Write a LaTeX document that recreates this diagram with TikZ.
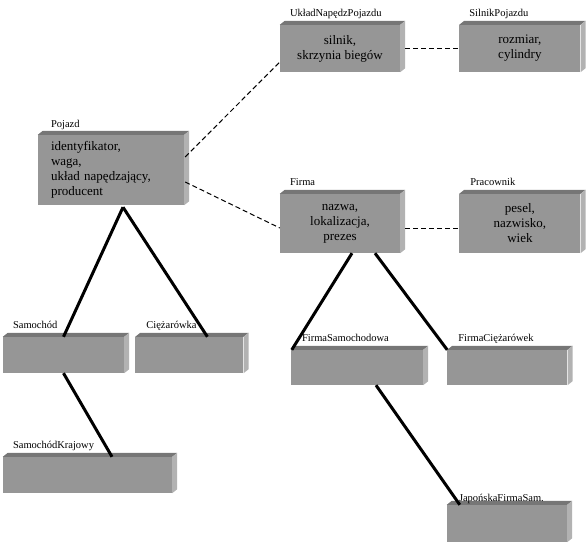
\documentclass[tikz,border=0pt]{standalone}
\usepackage{fontspec}
\setmainfont{Liberation Serif}
\usetikzlibrary{positioning,calc}
\definecolor{boxfront}{RGB}{150,150,150}
\definecolor{boxtop}{RGB}{118,118,118}
\definecolor{boxside}{RGB}{178,178,178}

\begin{document}
\begin{tikzpicture}[x=1pt, y=-1pt,
  klasa/.style={rectangle, fill=boxfront, inner sep=2pt, align=center,
                font=\fontsize{13}{15}\selectfont},
  nazwa/.style={anchor=base west, inner sep=0pt, font=\fontsize{10.5}{12}\selectfont},
  dziedz/.style={line width=3pt},
  assoc/.style={line width=1pt, dash pattern=on 5pt off 3pt}
]
\useasboundingbox (0,0) rectangle (587,545);

% klasy
\node[klasa, minimum width=120pt, minimum height=47pt] (uklad) at (340,48.5) {silnik,\\ skrzynia biegów};
\node[klasa, minimum width=121pt, minimum height=47pt, right=59pt of uklad] (silnik) {rozmiar,\\ cylindry};
\node[klasa, minimum height=70pt, text width=120pt, inner xsep=13pt, align=left] (pojazd) at (111,170)
  {identyfikator,\\ waga,\\ układ napędzający,\\ producent};
\node[klasa, minimum width=120pt, minimum height=59pt] (firma) at (340,223.5) {nazwa,\\ lokalizacja,\\ prezes};
\node[klasa, minimum width=121pt, minimum height=59pt, right=59pt of firma] (pracownik) {pesel,\\ nazwisko,\\ wiek};
\node[klasa, minimum width=121pt, minimum height=36pt] (samochod) at (63.5,355) {};
\node[klasa, minimum width=108pt, minimum height=36pt, right=11pt of samochod] (ciezarowka) {};
\node[klasa, minimum width=132pt, minimum height=35pt] (firmasam) at (357,367.5) {};
\node[klasa, minimum width=120pt, minimum height=35pt, right=24pt of firmasam] (firmaciez) {};
\node[klasa, minimum width=169pt, minimum height=36pt] (samkraj) at (87.5,475) {};
\node[klasa, minimum width=120pt, minimum height=37pt] (japonska) at (507,523.5) {};

% boki
\foreach \k in {uklad,silnik,pojazd,firma,pracownik,samochod,ciezarowka,firmasam,firmaciez,samkraj,japonska}{
  \fill[boxtop] (\k.north west) -- ++(5,-4) -- ($(\k.north east)+(5,-4)$) -- (\k.north east) -- cycle;
  \fill[boxside] (\k.north east) -- ++(5,-4) -- ($(\k.south east)+(5,-4)$) -- (\k.south east) -- cycle;
}

% nazwy klas
\node[nazwa] (uklad-n) at ([xshift=10pt, yshift=8pt]uklad.north west) {UkładNapędzPojazdu};
\node[nazwa] (silnik-n) at ([xshift=10pt, yshift=8pt]silnik.north west) {SilnikPojazdu};
\node[nazwa] (pojazd-n) at ([xshift=13pt, yshift=7pt]pojazd.north west) {Pojazd};
\node[nazwa] (firma-n) at ([xshift=10pt, yshift=8pt]firma.north west) {Firma};
\node[nazwa] (pracownik-n) at ([xshift=11pt, yshift=8pt]pracownik.north west) {Pracownik};
\node[nazwa] (samochod-n) at ([xshift=10pt, yshift=8pt]samochod.north west) {Samochód};
\node[nazwa] (ciezarowka-n) at ([xshift=11pt, yshift=8pt]ciezarowka.north west) {Ciężarówka};
\node[nazwa] (firmasam-n) at ([xshift=11pt, yshift=8pt]firmasam.north west) {FirmaSamochodowa};
\node[nazwa] (firmaciez-n) at ([xshift=11pt, yshift=8pt]firmaciez.north west) {FirmaCiężarówek};
\node[nazwa] (samkraj-n) at ([xshift=10pt, yshift=8pt]samkraj.north west) {SamochódKrajowy};
\node[nazwa] (japonska-n) at ([xshift=12pt, yshift=3pt]japonska.north west) {JapońskaFirmaSam.};

% asocjacje
\draw[assoc] ($(pojazd.east)+(1,-13)$) -- ($(uklad.west)+(0,13.5)$);
\draw[assoc] ($(pojazd.east)+(1,12)$) -- ($(firma.west)+(0,4.5)$);
\draw[assoc] ([xshift=5pt]uklad.east) -- (silnik.west);
\draw[assoc] ($(firma.east)+(5,5.5)$) -- ($(pracownik.west)+(0,5.5)$);

% dziedziczenie
\coordinate (pojazd-d) at ($(pojazd.south)+(12,2)$);
\draw[dziedz] (pojazd-d) -- (samochod.north);
\draw[dziedz] (pojazd-d) -- ($(ciezarowka.north)+(18,0)$);
\draw[dziedz] ($(firma.south)+(12,0)$) -- ($(firmasam.north west)+(1,0)$);
\draw[dziedz] ($(firma.south)+(35,0)$) -- (firmaciez.north west);
\draw[dziedz] (samochod.south) -- ($(samkraj.north)+(24.5,0)$);
\draw[dziedz] ($(firmasam.south)+(19,0)$) -- ($(japonska.north west)+(13,0)$);
\end{tikzpicture}
\end{document}
